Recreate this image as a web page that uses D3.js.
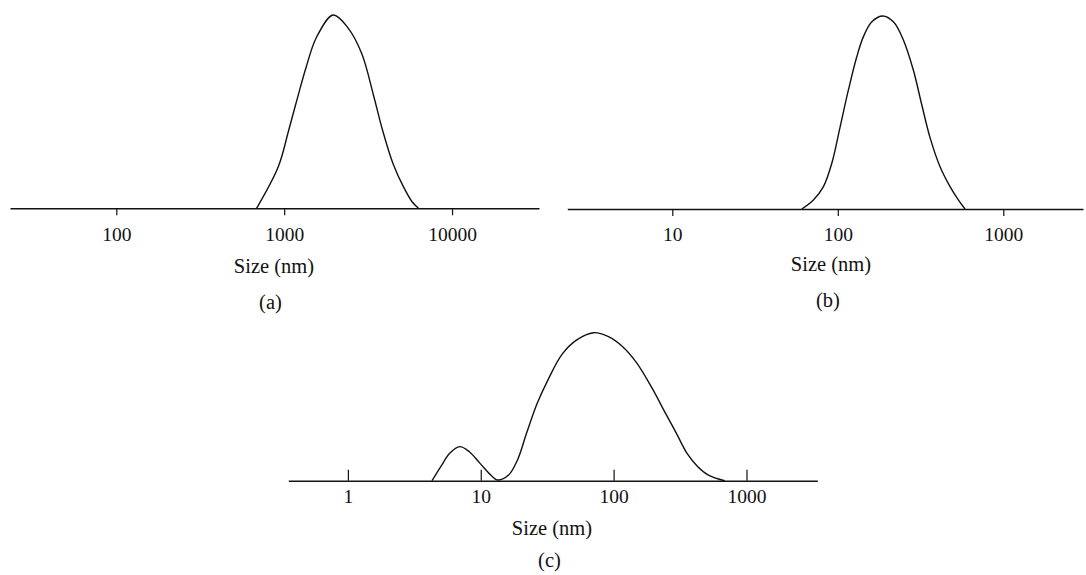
<!DOCTYPE html>
<html>
<head>
<meta charset="utf-8">
<script src="https://cdn.jsdelivr.net/npm/d3@7"></script>
<style>
  html, body { margin: 0; padding: 0; background: #fff; }
  svg { display: block; }
  text { font-family: "Liberation Serif", "DejaVu Serif", serif; fill: #111; }
</style>
</head>
<body>
<svg id="chart" width="1086" height="575"></svg>
<script>
// ---- Data (size in nm, relative intensity) ----
const sizeA = [685, 922, 1064, 1199, 1351, 1558, 1959, 2393, 2896, 3425, 3855, 4446, 5129, 5780, 6308];
const intensityA = [0, 21.5, 40.4, 57, 73, 88.5, 100, 93.5, 80.1, 57.6, 40.4, 23.2, 11.2, 3.4, 0];

const sizeB = [60.6, 71.2, 81.9, 92.0, 103.3, 115.9, 130.2, 142.8, 160.5, 187, 216.7, 249, 286, 321.6, 360.9, 414.8, 476.7, 535, 587];
const intensityB = [0, 4.7, 11.6, 23.7, 42.6, 61.7, 78.9, 89.3, 97, 100, 97, 87.6, 72, 54, 37, 21.9, 11.6, 4.7, 0];

const sizeC = [4.3, 5.0, 5.84, 6.94, 8.2, 9.88, 11.9, 13.4, 16.2, 18.9, 22.1, 26.6, 32.0, 41.0, 52.5, 70.6, 91.5, 117, 150, 192, 246, 297, 357, 430, 517, 685];
const intensityC = [0, 9.5, 18.5, 23.0, 19.6, 11.7, 3.8, 0.5, 3.8, 14.0, 32.0, 52.3, 68, 85.5, 95, 100, 97.3, 90.5, 79.3, 63.5, 45.5, 32, 18.5, 9.5, 3.8, 0];

const ticksA = [100, 1000, 10000];
const ticksB = [10, 100, 1000];
const ticksC = [1, 10, 100, 1000];

const xLabel = "Size (nm)";
const panelLabels = ["(a)", "(b)", "(c)"];

// ---- Layout ----
const svg = d3.select("#chart");

const panels = [
  { sizes: sizeA, vals: intensityA, ticks: ticksA, label: panelLabels[0],
    domain: [23.26, 32960], range: [10, 539], base: 208.3, top: 15,
    tickDir: 1, tickLen: 7, labelY: 32.4, titleX: 274, titleY: 272.5, subX: 270.5, subY: 309 },
  { sizes: sizeB, vals: intensityB, ticks: ticksB, label: panelLabels[1],
    domain: [2.32, 3031], range: [567.3, 1083], base: 209, top: 16,
    tickDir: 1, tickLen: 7, labelY: 31.5, titleX: 831, titleY: 270.5, subX: 828, subY: 307 },
  { sizes: sizeC, vals: intensityC, ticks: ticksC, label: panelLabels[2],
    domain: [0.356, 3412], range: [288.3, 817.3], base: 480.7, top: 332.7,
    tickDir: -1, tickLen: 11, labelY: 22.6, titleX: 552, titleY: 535, subX: 549.5, subY: 567 }
];

panels.forEach(p => {
  const x = d3.scaleLog().domain(p.domain).range(p.range);
  const y = d3.scaleLinear().domain([0, 100]).range([p.base, p.top]);

  const g = svg.append("g");

  // axis
  const axis = d3.axisBottom(x)
    .tickValues(p.ticks)
    .tickFormat(d3.format("d"))
    .tickSizeOuter(0)
    .tickSizeInner(p.tickDir * p.tickLen);

  const ag = g.append("g")
    .attr("transform", `translate(0,${p.base})`)
    .call(axis);
  ag.select(".domain").attr("stroke", "#111").attr("stroke-width", 1.4);
  ag.selectAll(".tick line").attr("stroke", "#111").attr("stroke-width", 1.2);
  ag.selectAll(".tick text")
    .attr("y", p.labelY)
    .attr("dy", null)
    .attr("font-size", 19.5)
    .attr("font-family", '"Liberation Serif", "DejaVu Serif", serif')
    .attr("fill", "#111");

  // curve
  const pts = p.sizes.map((s, i) => [s, p.vals[i]]);
  const line = d3.line()
    .x(d => x(d[0]))
    .y(d => Math.min(p.base, y(d[1])))
    .curve(d3.curveCatmullRom.alpha(0.5));
  g.append("path")
    .datum(pts)
    .attr("d", line)
    .attr("fill", "none")
    .attr("stroke", "#111")
    .attr("stroke-width", 1.4)
    .attr("stroke-linejoin", "round");

  // titles
  g.append("text")
    .attr("x", p.titleX).attr("y", p.titleY)
    .attr("text-anchor", "middle")
    .attr("font-size", 20.5)
    .text(xLabel);
  g.append("text")
    .attr("x", p.subX).attr("y", p.subY)
    .attr("text-anchor", "middle")
    .attr("font-size", 20.5)
    .text(p.label);
});
</script>
</body>
</html>
